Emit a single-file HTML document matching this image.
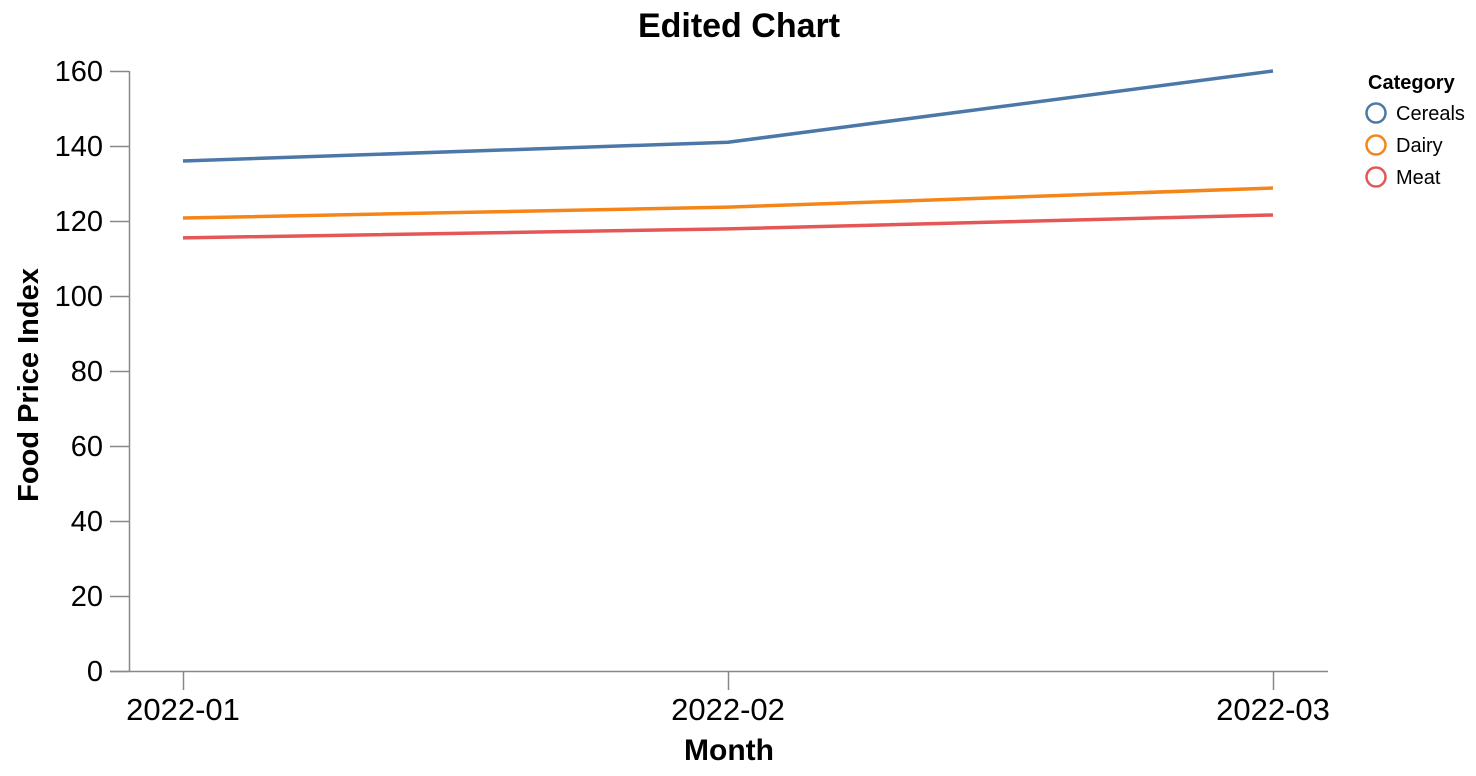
<!DOCTYPE html>
<html><head><meta charset="utf-8"><style>
body{margin:0;background:#fff;}
svg{display:block;font-family:"Liberation Sans",Arial,sans-serif;}
</style></head><body>
<svg id="chart" width="1476" height="776">
<text x="739" y="37" text-anchor="middle" font-size="34" font-weight="bold">Edited Chart</text>
<g id="yaxis"></g>
<g id="xaxis"></g>
<g id="lines"></g>
<text transform="translate(38,385) rotate(-90)" text-anchor="middle" font-size="29" font-weight="bold">Food Price Index</text>
<text x="729" y="760" text-anchor="middle" font-size="30" font-weight="bold">Month</text>
<g id="legend">
<text x="1368" y="89" font-size="20" font-weight="bold">Category</text>
</g>
</svg>
<script>
const months=["2022-01","2022-02","2022-03"];
const categories=["Cereals","Dairy","Meat"];
const cereals=[136,141,160];
const dairy=[120.8,123.7,128.8];
const meat=[115.5,117.9,121.6];
const yTicks=[0,20,40,60,80,100,120,140,160];
const colors=["#4c78a8","#f58518","#e45756"];
const NS="http://www.w3.org/2000/svg";
function y(v){return 671-v*600/160;}
function x(i){return 183+i*545;}
function mk(t,a,p){const e=document.createElementNS(NS,t);for(const k in a)e.setAttribute(k,a[k]);p.appendChild(e);return e;}
const ya=document.getElementById('yaxis');
mk('line',{x1:129.5,x2:129.5,y1:71,y2:671,stroke:'#888','stroke-width':1.5},ya);
yTicks.forEach(t=>{
 const l=mk('line',{x1:110,x2:129,y1:y(t)+0.5,y2:y(t)+0.5,stroke:'#888','stroke-width':1.5},ya);
 
 
 const tx=mk('text',{x:103,y:y(t)+10,'text-anchor':'end','font-size':29},ya);tx.textContent=t;
 
 
});
const xa=document.getElementById('xaxis');
mk('line',{x1:110,x2:1328,y1:671.5,y2:671.5,stroke:'#888','stroke-width':1.5},xa);
months.forEach((m,i)=>{
 const l=mk('line',{x1:x(i)+0.5,x2:x(i)+0.5,y1:671,y2:690,stroke:'#888','stroke-width':1.5},xa);
 
 
 const tx=mk('text',{x:x(i),y:720,'text-anchor':'middle','font-size':31},xa);tx.textContent=m;
 
 
});
const lg=document.getElementById('lines');
[cereals,dairy,meat].forEach((s,k)=>{
 const p=mk('path',{d:s.map((v,i)=>(i?'L':'M')+x(i)+','+y(v)).join(''),fill:'none',stroke:colors[k],'stroke-width':3.5},lg);
 
 
});
const leg=document.getElementById('legend');
categories.forEach((c,k)=>{
 const cy=113+k*32;
 const ci=mk('circle',{cx:1376,cy:cy,r:9.5,fill:'none',stroke:colors[k],'stroke-width':2.5},leg);
 
 
 const t=mk('text',{x:1396,y:cy+7,'font-size':20},leg);t.textContent=c;
 
 
});
</script>
</body></html>
